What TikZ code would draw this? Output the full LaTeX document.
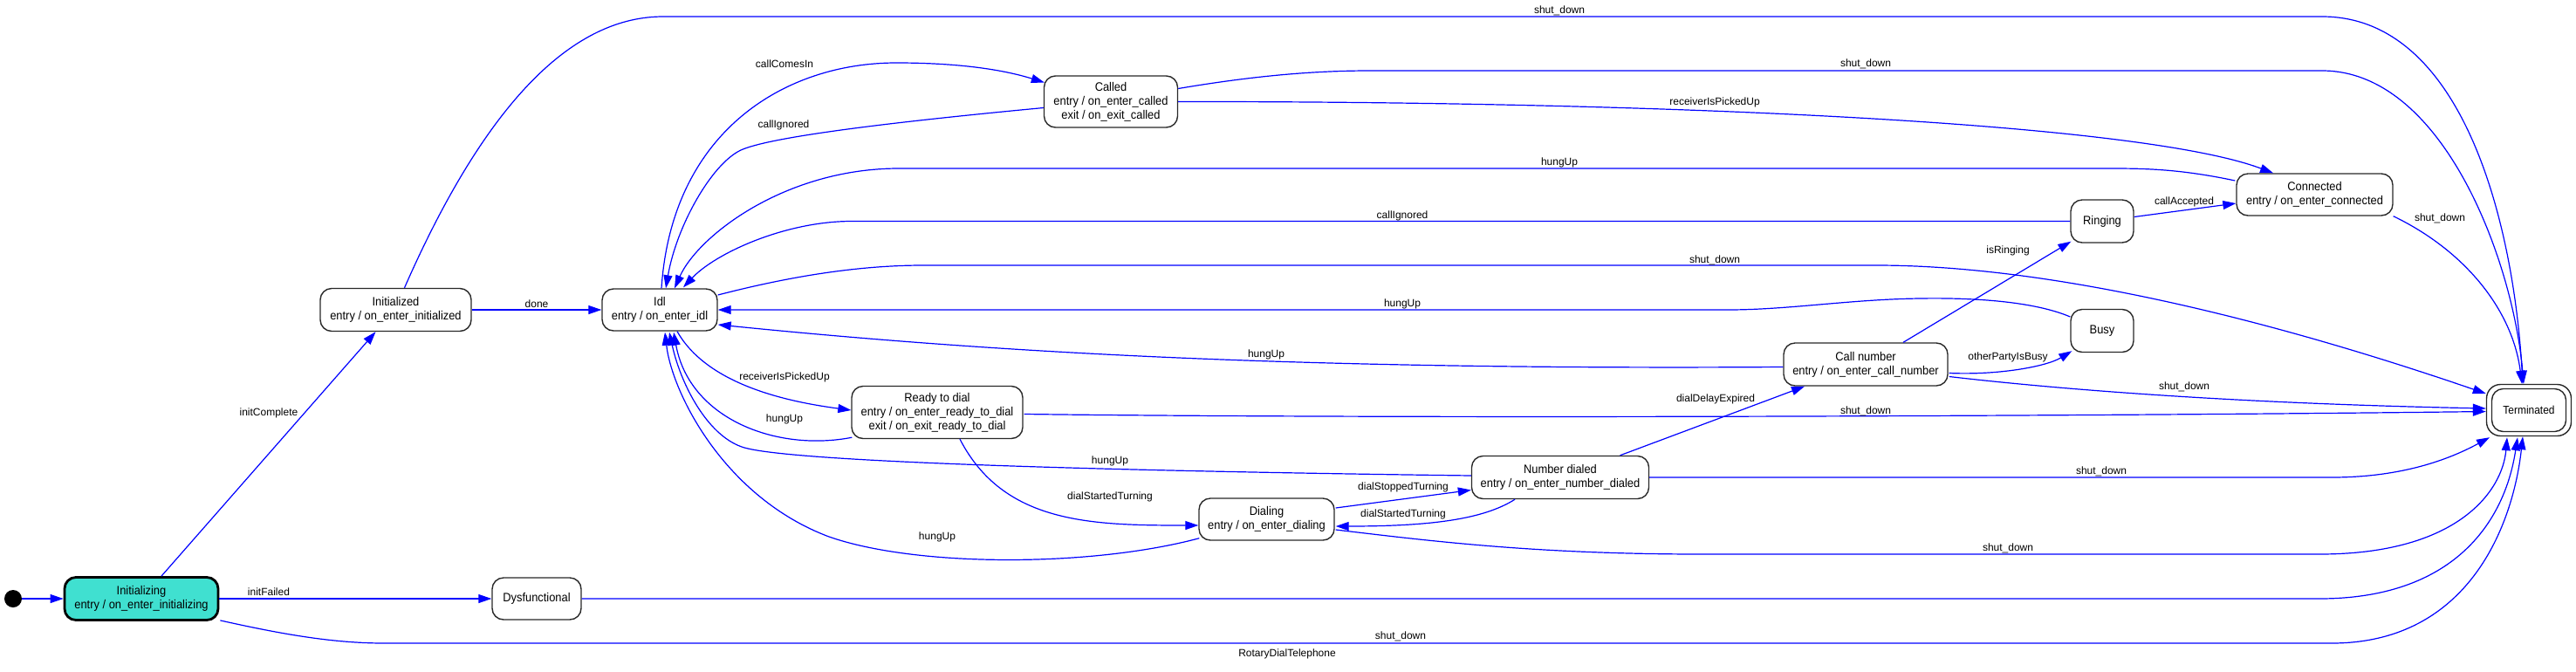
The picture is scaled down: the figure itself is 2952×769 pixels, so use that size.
\documentclass[tikz,border=0pt]{standalone}
\usepackage{fontspec}
\setmainfont{Liberation Sans}
\newfontfamily\nfont[FakeStretch=0.92]{Liberation Sans}
\usetikzlibrary{arrows.meta,calc}
\definecolor{edgeblue}{RGB}{0,0,255}
\definecolor{turq}{RGB}{64,224,208}
\definecolor{bordc}{RGB}{40,40,40}
\begin{document}
\begin{tikzpicture}[x=1pt,y=-1pt,
  state/.style={draw=bordc, line width=1.4pt, rounded corners=13pt, fill=white, align=center, inner sep=0pt, font=\nfont\fontsize{14}{16}\selectfont},
  tr/.style={draw=edgeblue, line width=1.2pt, -{Triangle[length=15pt,width=10pt]}},
  lab/.style={font=\fontsize{12}{14}\selectfont, inner sep=0pt}]
\useasboundingbox (0,0) rectangle (2952,769);

% states
\node[circle, fill=black, minimum size=20pt, inner sep=0pt] (init) at (15,686) {};
\node[state, fill=turq, draw=black, line width=2.8pt, minimum width=176pt, minimum height=49pt] (initz) at (162,686) {Initializing\\entry / on\_enter\_initializing};
\node[state, minimum width=173pt, minimum height=49pt] (inited) at (453.5,355) {Initialized\\entry / on\_enter\_initialized};
\node[state, minimum width=132pt, minimum height=48pt] (idl) at (756,355) {Idl\\entry / on\_enter\_idl};
\node[state, minimum width=102pt, minimum height=48pt] (dysf) at (615,686) {Dysfunctional};
\node[state, minimum width=153pt, minimum height=59pt] (called) at (1273,116.5) {Called\\entry / on\_enter\_called\\exit / on\_exit\_called};
\node[state, minimum width=196pt, minimum height=60pt] (ready) at (1074,472.5) {Ready to dial\\entry / on\_enter\_ready\_to\_dial\\exit / on\_exit\_ready\_to\_dial};
\node[state, minimum width=155pt, minimum height=48pt] (dialing) at (1451.5,595) {Dialing\\entry / on\_enter\_dialing};
\node[state, minimum width=203pt, minimum height=49pt] (numd) at (1788,547) {Number dialed\\entry / on\_enter\_number\_dialed};
\node[state, minimum width=188pt, minimum height=49pt] (calln) at (2138,417.5) {Call number\\entry / on\_enter\_call\_number};
\node[state, minimum width=72pt, minimum height=49pt] (busy) at (2409,379) {Busy};
\node[state, minimum width=72pt, minimum height=49pt] (ringing) at (2409,253.5) {Ringing};
\node[state, minimum width=179pt, minimum height=48pt] (conn) at (2652.5,223) {Connected\\entry / on\_enter\_connected};
\node[state, rounded corners=16pt, minimum width=97pt, minimum height=59pt] (term) at (2898,470) {};
\node[state, rounded corners=13pt, minimum width=85pt, minimum height=49pt, font=\nfont\fontsize{13}{15}\selectfont] (terminner) at (2898,470) {Terminated};

% transitions
\draw[tr] (init) -- (initz);
\draw[tr] ($(initz.north)+(23,0)$) -- ($(inited.south)+(-23,0)$);
\draw[tr] (initz.east) -- (dysf.west);
\draw[tr] ($(initz.south east)+(1,-1)$) .. controls (320,726) and (380,737) .. (440,737) -- (2672,737) .. controls (2830,737) and (2880,600) .. ($(term.south)+(-7,0)$);
\draw[tr] (dysf.east) -- (2658,686) .. controls (2810,686) and (2870,600) .. ($(term.south)+(-13,1)$);
\draw[tr] (inited.east) -- (idl.west);
\draw[tr] ($(inited.north)+(10,0)$) .. controls (560,110) and (660,19) .. (760,19) -- (2661,19) .. controls (2820,19) and (2880,250) .. ($(term.north)+(-7,0)$);
% Idl
\draw[tr] ($(idl.north)+(2,0)$) .. controls (770,150) and (900,72) .. (1027,72) .. controls (1100,72) and (1150,80) .. ($(called.west)+(1,-22)$);
\draw[tr] ($(idl.east)+(0,-17)$) .. controls (900,318) and (980,304) .. (1058,304) -- (2150,304) .. controls (2400,304) and (2700,400) .. ($(term.west)+(0,-19)$);
\draw[tr] ($(idl.south)+(20,0)$) .. controls (810,440) and (900,460) .. ($(ready.west)+(0,-2.5)$);
% Called
\draw[tr] ($(called.west)+(0,7)$) .. controls (1000,142) and (880,158) .. (849,172) .. controls (815,188) and (775,260) .. ($(idl.north)+(7,0)$);
\draw[tr] ($(called.east)+(0,-15)$) .. controls (1430,88) and (1500,81) .. (1570,81) -- (2661,81) .. controls (2800,81) and (2880,300) .. ($(term.north)+(-6,0)$);
\draw[tr] (called.east) .. controls (1900,116) and (2450,140) .. ($(conn.north)+(-47.5,0)$);
% Connected
\draw[tr] ($(conn.west)+(-1,-16)$) .. controls (2500,194) and (2460,193) .. (2420,193) -- (1030,193) .. controls (900,193) and (800,270) .. ($(idl.north)+(17,0)$);
\draw[tr] (conn.south east) .. controls (2830,290) and (2880,360) .. ($(term.north)+(-8,0)$);
% Ringing
\draw[tr] (ringing.west) -- (976,253.5) .. controls (900,253.5) and (820,290) .. ($(idl.north)+(27,-1)$);
\draw[tr] ($(ringing.east)+(0,-5)$) -- ($(conn.west)+(0,10)$);
% Busy
\draw[tr] ($(busy.west)+(0,-16)$) .. controls (2330,345) and (2260,341) .. (2200,342) .. controls (2120,343) and (2050,355) .. (1980,355) -- (idl.east);
% Call number
\draw[tr] ($(calln.north)+(43,0)$) -- ($(ringing.south west)+(1,-2)$);
\draw[tr] ($(calln.east)+(1,10)$) .. controls (2290,430) and (2345,420) .. ($(busy.south west)+(2,-2)$);
\draw[tr] ($(calln.west)+(0,3)$) .. controls (1500,424) and (1150,405) .. ($(idl.east)+(0,17)$);
\draw[tr] ($(calln.east)+(1,14)$) .. controls (2350,445) and (2550,462) .. ($(term.west)+(0,-2)$);
% Ready to dial
\draw[tr] ($(ready.south west)+(1,-2)$) .. controls (890,518) and (790,480) .. ($(idl.south)+(16,1)$);
\draw[tr] ($(ready.east)+(1,2)$) .. controls (1600,480) and (2400,477) .. ($(term.west)+(0,1.5)$);
\draw[tr] ($(ready.south)+(26,0)$) .. controls (1150,600) and (1250,602) .. ($(dialing.west)+(0,7)$);
% Number dialed
\draw[tr] ($(numd.west)+(0,-2)$) .. controls (1300,540) and (900,530) .. (850,512) .. controls (810,498) and (780,440) .. ($(idl.south)+(11,1)$);
\draw[tr] ($(numd.south)+(-52,0)$) .. controls (1700,595) and (1640,603) .. ($(dialing.east)+(1,8)$);
\draw[tr] ($(numd.north)+(68.5,0)$) -- ($(calln.south)+(-70,0)$);
\draw[tr] (numd.east) -- (2672,547) .. controls (2745,547) and (2800,530) .. ($(term.south)+(-45,1)$);
% Dialing
\draw[tr] ($(dialing.south west)+(1,-3)$) .. controls (1250,650) and (1050,650) .. (950,615) .. controls (830,570) and (770,450) .. ($(idl.south)+(6,1)$);
\draw[tr] ($(dialing.east)+(1,-13)$) -- ($(numd.west)+(0,14.5)$);
\draw[tr] ($(dialing.east)+(1,12)$) .. controls (1640,620) and (1760,635) .. (1950,635) -- (2658,635) .. controls (2820,635) and (2868,560) .. ($(term.south)+(-25,1)$);

% labels
\node[lab] (l1) at (308,473) {initComplete};
\node[lab] (l2) at (308,678) {initFailed};
\node[lab] (l3) at (1605,729) {shut\_down};
\node[lab] (l4) at (615,348) {done};
\node[lab] (l5) at (1787,12) {shut\_down};
\node[lab] (l6) at (899,73) {callComesIn};
\node[lab] (l7) at (898,143) {callIgnored};
\node[lab] (l8) at (2138,73) {shut\_down};
\node[lab] (l9) at (1965,117) {receiverIsPickedUp};
\node[lab] (l10) at (1787,186) {hungUp};
\node[lab] (l11) at (1607,247) {callIgnored};
\node[lab] (l12) at (2503,231) {callAccepted};
\node[lab] (l13) at (2796,250) {shut\_down};
\node[lab] (l14) at (1965,298) {shut\_down};
\node[lab] (l15) at (1607,348) {hungUp};
\node[lab] (l16) at (2301,287) {isRinging};
\node[lab] (l17) at (2301,409) {otherPartyIsBusy};
\node[lab] (l18) at (1451,406) {hungUp};
\node[lab] (l19) at (2503,443) {shut\_down};
\node[lab] (l20) at (899,432) {receiverIsPickedUp};
\node[lab] (l21) at (899,480) {hungUp};
\node[lab] (l22) at (2138,471) {shut\_down};
\node[lab] (l23) at (1272,569) {dialStartedTurning};
\node[lab] (l24) at (1272,528) {hungUp};
\node[lab] (l25) at (1966,457) {dialDelayExpired};
\node[lab] (l26) at (2408,540) {shut\_down};
\node[lab] (l27) at (1608,558) {dialStoppedTurning};
\node[lab] (l28) at (1608,589) {dialStartedTurning};
\node[lab] (l29) at (1074,615) {hungUp};
\node[lab] (l30) at (2301,628) {shut\_down};
\node[lab] (cap) at (1475,749) {RotaryDialTelephone};
\end{tikzpicture}
\end{document}
